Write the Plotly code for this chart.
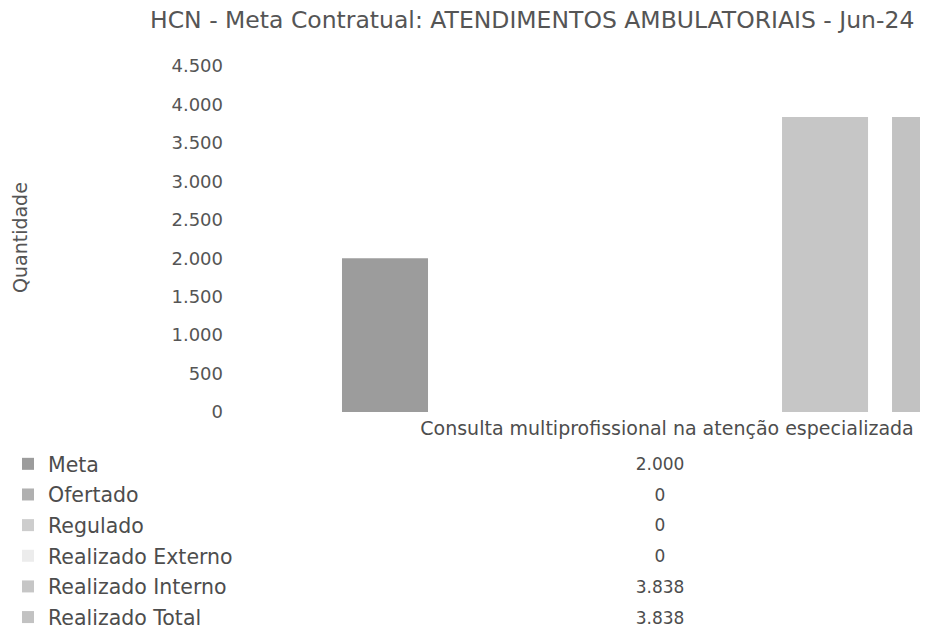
import plotly.graph_objects as go

categoria = ["Consulta multiprofissional na atenção especializada"]
series = ["Meta", "Ofertado", "Regulado", "Realizado Externo", "Realizado Interno", "Realizado Total"]
valores = [2000, 0, 0, 0, 3838, 3838]
cores = ["#9c9c9c", "#b0b0b0", "#cdcdcd", "#ececec", "#c6c6c6", "#c2c2c2"]
y_ticks = [0, 500, 1000, 1500, 2000, 2500, 3000, 3500, 4000, 4500]

# a página tem 8px de margem no body; a figura ocupa o resto da janela
OFF = 8
W, H = 928 - OFF, 639 - OFF
txt = "#4d4d4d"
fonte = "DejaVu Sans"


def fx(px):
    return (px - OFF) / W


def fy(px):
    return 1 - (px - OFF) / H


def fmt(v):
    return f"{v:,}".replace(",", ".")


fig = go.Figure()

for nome, v, c in zip(series, valores, cores):
    fig.add_trace(go.Bar(
        x=categoria, y=[v], name=nome, marker=dict(color=c, line=dict(width=0)),
        legendgroup=nome, xaxis="x", yaxis="y",
    ))

# linhas da tabela de dados embaixo do gráfico
fig.add_trace(go.Scatter(
    x=categoria * len(series), y=series, mode="text",
    text=[fmt(v) for v in valores], textfont=dict(size=17, color=txt, family=fonte),
    showlegend=False, xaxis="x2", yaxis="y2", hoverinfo="skip",
))

fig.update_layout(
    width=W, height=H,
    margin=dict(l=0, r=0, t=0, b=0, autoexpand=False),
    paper_bgcolor="white", plot_bgcolor="white",
    separators=",.",
    font=dict(family=fonte, color=txt, size=17),
    barmode="group", bargap=0.2, bargroupgap=0.218,
    xaxis=dict(
        domain=[fx(230), 1], range=[-0.5212, 0.3248],
        showline=False, showgrid=False, ticks="",
        ticklabelshift=7, ticklabelstandoff=3,
        tickfont=dict(size=19, color=txt),
    ),
    yaxis=dict(
        domain=[fy(412), fy(66)], range=[0, 4500],
        tickvals=y_ticks, tickformat=",.0f", ticklabelstandoff=6,
        showgrid=False, zeroline=False, showline=False, ticks="",
        tickfont=dict(size=18, color="#555555"),
    ),
    xaxis2=dict(
        domain=[fx(230), 1], matches="x", anchor="y2",
        showticklabels=False, showgrid=False, zeroline=False, showline=False,
    ),
    yaxis2=dict(
        domain=[fy(635), fy(450)], anchor="x2", range=[-0.5, 5.5],
        categoryorder="array", categoryarray=series[::-1],
        showticklabels=False, showgrid=False, zeroline=False, showline=False,
    ),
    legend=dict(
        x=0.0, xanchor="left", y=fy(444), yanchor="top",
        orientation="v", itemwidth=30, tracegroupgap=1,
        font=dict(size=20.5, color=txt, family=fonte),
        bgcolor="rgba(0,0,0,0)",
    ),
    annotations=[
        dict(
            text="HCN - Meta Contratual: ATENDIMENTOS AMBULATORIAIS - Jun-24",
            x=fx(915), xanchor="right", y=fy(20), yanchor="middle",
            xref="paper", yref="paper", showarrow=False, borderpad=0,
            font=dict(size=23.5, color="#555555", family=fonte),
        ),
        dict(
            text="Quantidade", textangle=-90, x=fx(20), xanchor="center",
            y=fy(238), yanchor="middle",
            xref="paper", yref="paper", showarrow=False,
            font=dict(size=19, color="#555555", family=fonte),
        ),
    ],
)

fig.write_html("out.html")
